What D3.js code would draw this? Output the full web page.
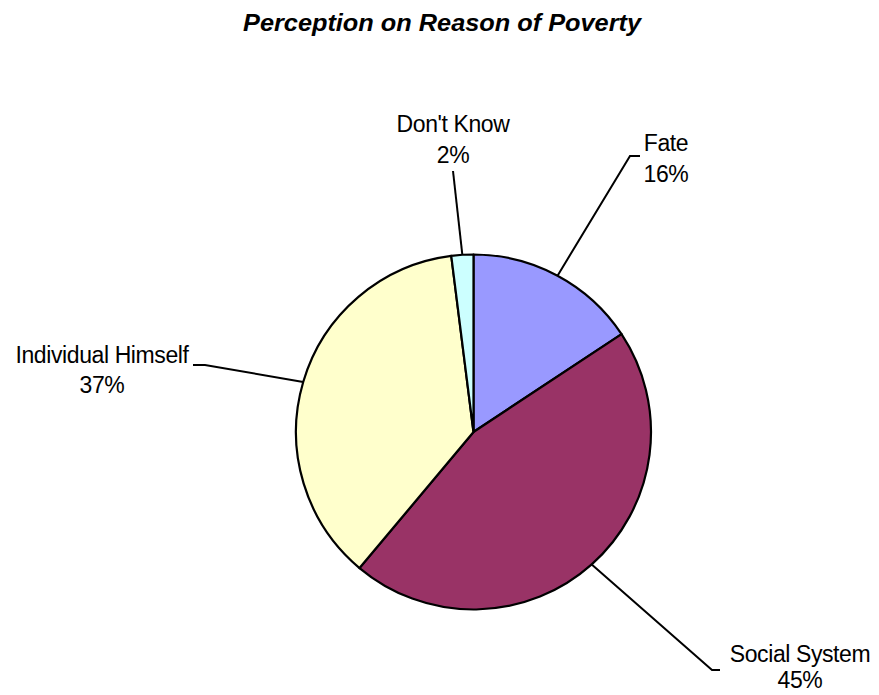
<!DOCTYPE html>
<html>
<head>
<meta charset="utf-8">
<script src="https://cdn.jsdelivr.net/npm/d3@7"></script>
<style>
  body { margin: 0; background: #fff; }
  text { font-family: Arial, "Liberation Sans", sans-serif; fill: #000; }
</style>
</head>
<body>
<div id="piechart"></div>
<script>
const categories = ["Fate", "Social System", "Individual Himself", "Don't Know"];
const values = [15.7, 45.4, 36.9, 2.0];
const pctLabels = ["16%", "45%", "37%", "2%"];
const colors = ["#9999ff", "#993366", "#ffffcc", "#ccffff"];

function createPieChart() {
  d3.select("#piechart").selectAll("*").remove();

  const width = 879, height = 695;
  const cx = 473.5, cy = 432, radius = 177.5;

  const svg = d3.select("#piechart").append("svg")
    .attr("width", width)
    .attr("height", height);

  svg.append("text")
    .attr("x", 442)
    .attr("y", 31)
    .attr("text-anchor", "middle")
    .style("font-size", "24px")
    .style("font-weight", "bold")
    .style("font-style", "italic")
    .attr("textLength", 398)
    .attr("lengthAdjust", "spacingAndGlyphs")
    .text("Perception on Reason of Poverty");

  const data = categories.map((c, i) => ({ name: c, value: values[i], pct: pctLabels[i], color: colors[i] }));

  const pie = d3.pie().value(d => d.value).sort(null);
  const arc = d3.arc().innerRadius(0).outerRadius(radius);
  const arcs = pie(data);

  const g = svg.append("g").attr("transform", `translate(${cx},${cy})`);

  g.selectAll("path")
    .data(arcs)
    .enter().append("path")
    .attr("d", arc)
    .attr("fill", d => d.data.color)
    .attr("stroke", "#000")
    .attr("stroke-width", 2.2)
    .attr("stroke-linejoin", "round");

  // label layout: text centre, first baseline, line gap, leader bend point and end point
  const layout = [
    { tx: 666, ty: 151, gap: 31, bend: [630, 156], end: [640, 156] },
    { tx: 800, ty: 662, gap: 26, bend: [712, 670], end: [720, 670] },
    { tx: 102, ty: 363, gap: 30, bend: [205, 365], end: [193, 365] },
    { tx: 453, ty: 132, gap: 31, bend: null, end: [453, 171] }
  ];

  arcs.forEach((d, i) => {
    const mid = (d.startAngle + d.endAngle) / 2;
    const sx = cx + radius * Math.sin(mid);
    const sy = cy - radius * Math.cos(mid);
    const L = layout[i];
    const pts = [[sx, sy]];
    if (L.bend) pts.push(L.bend);
    pts.push(L.end);

    svg.append("path")
      .attr("d", d3.line()(pts))
      .attr("fill", "none")
      .attr("stroke", "#000")
      .attr("stroke-width", 2);

    const t = svg.append("text")
      .attr("x", L.tx)
      .attr("y", L.ty)
      .attr("text-anchor", "middle")
      .style("font-size", "23px")
      .style("letter-spacing", "-0.4px");
    t.append("tspan").attr("x", L.tx).text(d.data.name);
    t.append("tspan").attr("x", L.tx).attr("dy", L.gap).text(d.data.pct);
  });
}

createPieChart();
</script>
</body>
</html>
